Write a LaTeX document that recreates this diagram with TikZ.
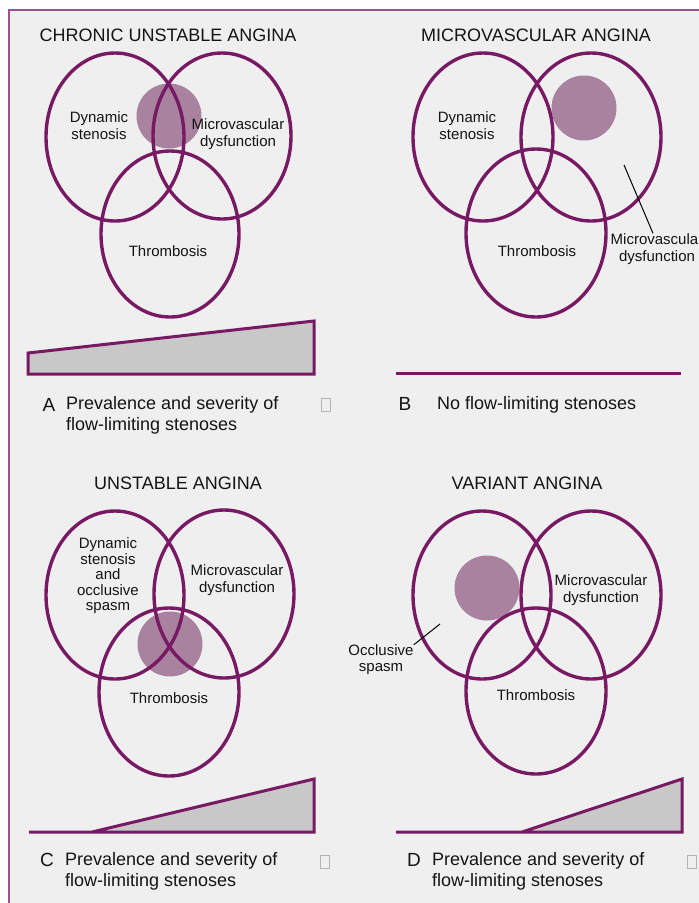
\documentclass[tikz,border=0pt]{standalone}
\usepackage{fontspec}
\setmainfont{Liberation Sans}
\definecolor{vpurple}{HTML}{781A63}
\definecolor{vborder}{HTML}{A0508C}
\definecolor{vmauve}{HTML}{A9829F}
\definecolor{vbg}{HTML}{EFEFEF}
\definecolor{vwedge}{HTML}{C8C8C8}
\definecolor{vtxt}{HTML}{141414}
\definecolor{vbox}{HTML}{B4B4B4}
\begin{document}
\begin{tikzpicture}[x=1pt,y=-1pt,
  ring/.style={draw=vpurple, line width=3.4pt},
  blob/.style={fill=vmauve},
  wedge/.style={draw=vpurple, fill=vwedge, line width=3pt, line join=miter},
  lbl/.style={font=\fontsize{15}{17}\selectfont, text=vtxt, align=center, inner sep=0pt},
  ttl/.style={font=\fontsize{18}{21}\selectfont, text=vtxt, inner sep=0pt},
  captxt/.style={font=\fontsize{18}{21}\selectfont, text=vtxt, inner sep=0pt, align=left, anchor=west},
  letter/.style={font=\fontsize{19}{21}\selectfont, text=vtxt, inner sep=0pt},
  glyphbox/.style={draw=vbox, line width=0.8pt, minimum width=9pt, minimum height=13pt, inner sep=0pt},
  leader/.style={draw=black, line width=1pt}]
\useasboundingbox (0,0) rectangle (699,903);
\fill[white] (0,0) rectangle (699,903);
\fill[vbg] (9,10) rectangle (699,903);
\draw[vborder, line width=2pt] (9,903) -- (9,10) -- (699,10);

% ---------- Panel A ----------
\node[ttl] (tA) at (168,35) {CHRONIC UNSTABLE ANGINA};
\fill[blob] (169,116) circle [radius=32.5pt];
\draw[ring] (115,137) ellipse [x radius=69pt, y radius=84pt];
\draw[ring] (222,136) ellipse [x radius=69pt, y radius=83pt];
\draw[ring] (170,234) ellipse [x radius=69pt, y radius=83pt];
\node[lbl] (dA) at (99,126) {Dynamic\\stenosis};
\node[lbl] (mA) at (238,134) {Microvascular\\dysfunction};
\node[lbl] (thA) at (168,251) {Thrombosis};
\draw[wedge] (28,353) -- (314,321) -- (314,374) -- (28,374) -- cycle;
\node[letter] (lA) at (49,405) {A};
\node[captxt] (cA) at (66,415.5) {Prevalence and severity of\\flow-limiting stenoses};
\node[glyphbox] (gA) at (326,405) {};

% ---------- Panel B ----------
\node[ttl] (tB) at (536,35) {MICROVASCULAR ANGINA};
\fill[blob] (584,108) circle [radius=32.5pt];
\draw[ring] (483,137) ellipse [x radius=70pt, y radius=84pt];
\draw[ring] (591,137) ellipse [x radius=70pt, y radius=84pt];
\draw[ring] (536,233) ellipse [x radius=70pt, y radius=84pt];
\node[lbl] (dB) at (467,126) {Dynamic\\stenosis};
\node[lbl] (thB) at (537,251) {Thrombosis};
\node[lbl] (mB) at (657,249) {Microvascula\phantom{r}\\dysfunction};
\coordinate (pB) at (624,165);
\draw[leader] (pB) -- (mB.north -| 653,0);
\draw[vpurple, line width=3pt] (396,373) -- (681,373);
\node[letter] (lB) at (405,404) {B};
\node[captxt] (cB) at (437,405) {No flow-limiting stenoses};

% ---------- Panel C ----------
\node[ttl] (tC) at (178,483) {UNSTABLE ANGINA};
\fill[blob] (170,644) circle [radius=32.5pt];
\draw[ring] (115,595) ellipse [x radius=69pt, y radius=84pt];
\draw[ring] (224,594) ellipse [x radius=70pt, y radius=84pt];
\draw[ring] (169,692) ellipse [x radius=70pt, y radius=84pt];
\node[lbl, font=\fontsize{15}{15.5}\selectfont] (dC) at (108,576) {Dynamic\\stenosis\\and\\occlusive\\spasm};
\node[lbl] (mC) at (237,580.5) {Microvascular\\dysfunction};
\node[lbl] (thC) at (169,698) {Thrombosis};
\draw[wedge] (29,832) -- (92,832) -- (314,779) -- (314,832) -- cycle;
\node[letter] (lC) at (47,860) {C};
\node[captxt] (cC) at (65,871) {Prevalence and severity of\\flow-limiting stenoses};
\node[glyphbox] (gC) at (325,862) {};

% ---------- Panel D ----------
\node[ttl] (tD) at (527,483) {VARIANT ANGINA};
\fill[blob] (487,588) circle [radius=32.5pt];
\draw[ring] (482,595) ellipse [x radius=69pt, y radius=84pt];
\draw[ring] (591,595) ellipse [x radius=70pt, y radius=84pt];
\draw[ring] (536,691) ellipse [x radius=70pt, y radius=83pt];
\node[lbl] (mD) at (601,590.5) {Microvascular\\dysfunction};
\node[lbl] (thD) at (536,695) {Thrombosis};
\node[lbl, font=\fontsize{15}{16}\selectfont] (oD) at (381,660) {Occlusive\\spasm};
\coordinate (pD) at (440,624);
\draw[leader] (pD) -- (oD.north east);
\draw[wedge] (396,832) -- (522,832) -- (682,779) -- (682,832) -- cycle;
\node[letter] (lD) at (414,860) {D};
\node[captxt] (cD) at (432,871) {Prevalence and severity of\\flow-limiting stenoses};
\node[glyphbox] (gD) at (692,862) {};
\end{tikzpicture}
\end{document}
